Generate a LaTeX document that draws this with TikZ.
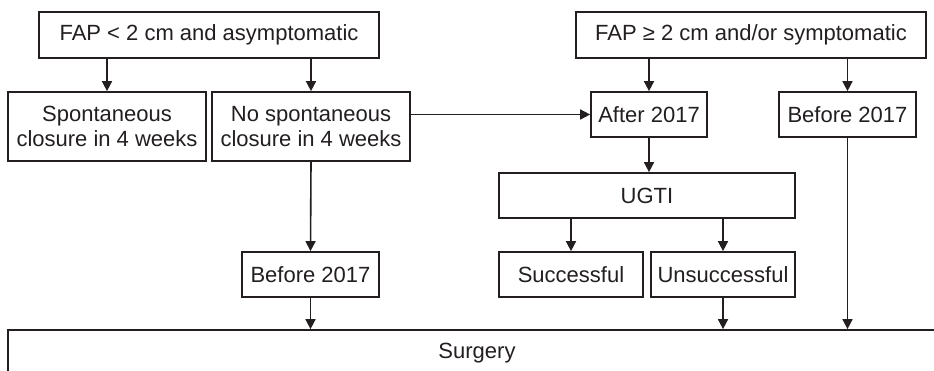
\documentclass[tikz,border=0pt]{standalone}
\usepackage{fontspec}
\setmainfont{Liberation Sans}
\usetikzlibrary{arrows.meta}
\definecolor{ink}{HTML}{231F20}
\begin{document}
\begin{tikzpicture}[x=1pt,y=-1pt,
  box/.style={draw=ink, line width=1.7pt, inner sep=0pt, align=center,
    font=\fontsize{22}{25.5}\selectfont, text=ink},
  arr/.style={draw=ink, line width=1.6pt, -{Triangle[length=10pt,width=10pt]}}]
\useasboundingbox (0,0) rectangle (934,371);
\clip (0,0) rectangle (934,371);
\fill[white] (0,0) rectangle (934,371);
% row 1
\node[box, minimum width=340pt, minimum height=46pt] (A) at (209,35) {FAP < 2 cm and asymptomatic};
\node[box, minimum width=350pt, minimum height=46pt] (B) at (751,35) {FAP ≥ 2 cm and/or symptomatic};
% row 2
\node[box, minimum width=198pt, minimum height=69pt] (S1) at (107,126.5) {Spontaneous\\closure in 4 weeks};
\node[box, minimum width=198pt, minimum height=69pt] (S2) at (311,126.5) {No spontaneous\\closure in 4 weeks};
\node[box, minimum width=116pt, minimum height=45pt] (AF) at (649,114.5) {After 2017};
\node[box, minimum width=137pt, minimum height=45pt] (BF) at (847.5,114.5) {Before 2017};
% row 3
\node[box, minimum width=296pt, minimum height=45pt] (U) at (647,195.5) {UGTI};
% row 4
\node[box, minimum width=137pt, minimum height=45pt] (BL) at (310.5,274.5) {Before 2017};
\node[box, minimum width=144pt, minimum height=45pt] (Su) at (571,274.5) {Successful};
\node[box, minimum width=144pt, minimum height=45pt] (Un) at (723,274.5) {Unsuccessful};
% surgery
\node[box, minimum width=938pt, minimum height=46pt] (Sg) at (477,353) {Surgery};
% connectors
\draw[arr] (S1.north |- A.south) -- (S1.north);
\draw[arr] (S2.north |- A.south) -- (S2.north);
\draw[arr] (S2.east |- AF.west) -- (AF.west);
\draw[arr] (AF.north |- B.south) -- (AF.north);
\draw[arr] (BF.north |- B.south) -- (BF.north);
\draw[arr] (AF.south) -- (AF.south |- U.north);
\draw[arr] (Su.north |- U.south) -- (Su.north);
\draw[arr] (Un.north |- U.south) -- (Un.north);
\draw[arr] (S2.south) -- (BL.north);
\draw[arr] (BL.south) -- (BL.south |- Sg.north);
\draw[arr] (Un.south) -- (Un.south |- Sg.north);
\draw[arr] (BF.south) -- (BF.south |- Sg.north);
\end{tikzpicture}
\end{document}
